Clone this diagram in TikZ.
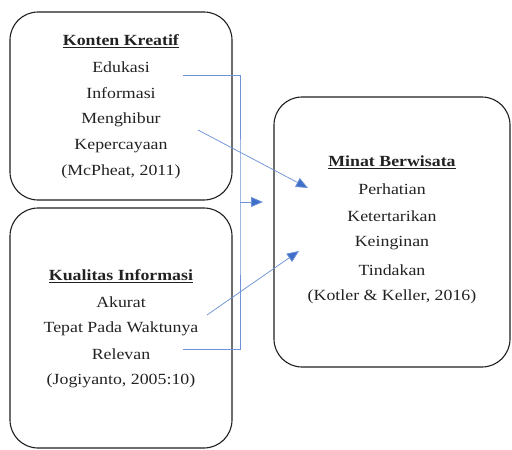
\documentclass[tikz,border=0pt]{standalone}
\usepackage{fontspec}
\setmainfont{Liberation Serif}[FakeStretch=1.15]
\usetikzlibrary{arrows.meta, calc, positioning}
\definecolor{linkblue}{HTML}{6F93D6}
\definecolor{tipblue}{HTML}{3F6FC8}
\definecolor{inkgray}{HTML}{222222}
\newcommand{\varhead}[1]{\underline{\textbf{#1}}}

\begin{document}
\begin{tikzpicture}[x=1pt, y=-1pt,
  varbox/.style={draw=black!88, line width=1.1pt, rounded corners=28pt},
  txt/.style={font=\fontsize{15.5}{18}\selectfont, text=inkgray, inner sep=0pt},
  link/.style={draw=linkblue, line width=0.75pt},
  arr/.style={link, -{Triangle[length=12pt, width=10pt, fill=tipblue]}}
]
\useasboundingbox (0,0) rectangle (512,450);

\def\lh{26.2}   % line pitch inside the boxes

% --- Boxes ---
\node[varbox, minimum width=222pt, minimum height=188pt] (kk) at (121,106) {};
\node[varbox, minimum width=222pt, minimum height=240pt] (ki) at (121,328) {};
\node[varbox, minimum width=236pt, minimum height=270pt] (mb) at (392,232) {};

% --- Konten Kreatif ---
\node[txt] (kk-0) at (121,41) {\varhead{Konten Kreatif}};
\foreach \t [count=\i] in {Edukasi, Informasi, Menghibur, Kepercayaan, {(McPheat, 2011)}}
  \node[txt] (kk-\i) at (121,{41+\i*\lh}) {\t};

% --- Kualitas Informasi ---
\node[txt] (ki-0) at (121,276) {\varhead{Kualitas Informasi}};
\foreach \t [count=\i] in {Akurat, Tepat Pada Waktunya, Relevan, {(Jogiyanto, 2005:10)}}
  \node[txt] (ki-\i) at (121,{276+\i*\lh}) {\t};

% --- Minat Berwisata ---
\node[txt] (mb-0) at (392,162) {\varhead{Minat Berwisata}};
\foreach \t [count=\i] in {Perhatian, Ketertarikan, Keinginan, Tindakan, {(Kotler \& Keller, 2016)}}
  \node[txt] (mb-\i) at (392,{162+\i*27}) {\t};

% --- Connector ends ---
\coordinate (ed) at (183,75);
\coordinate (rl) at (183,349);
\coordinate (jn) at (240,202);
\coordinate (jn-tip) at (263,202);
\coordinate (mh) at (198,130);
\coordinate (mh-tip) at (308,188);
\coordinate (tp) at (207,315);
\coordinate (tp-tip) at (299,251);

% --- Connectors ---
\draw[link] (ed) -| (jn) |- (rl);
\draw[arr] (jn) -- (jn-tip);
\draw[arr] (mh) -- (mh-tip);
\draw[arr] (tp) -- (tp-tip);

\end{tikzpicture}
\end{document}
